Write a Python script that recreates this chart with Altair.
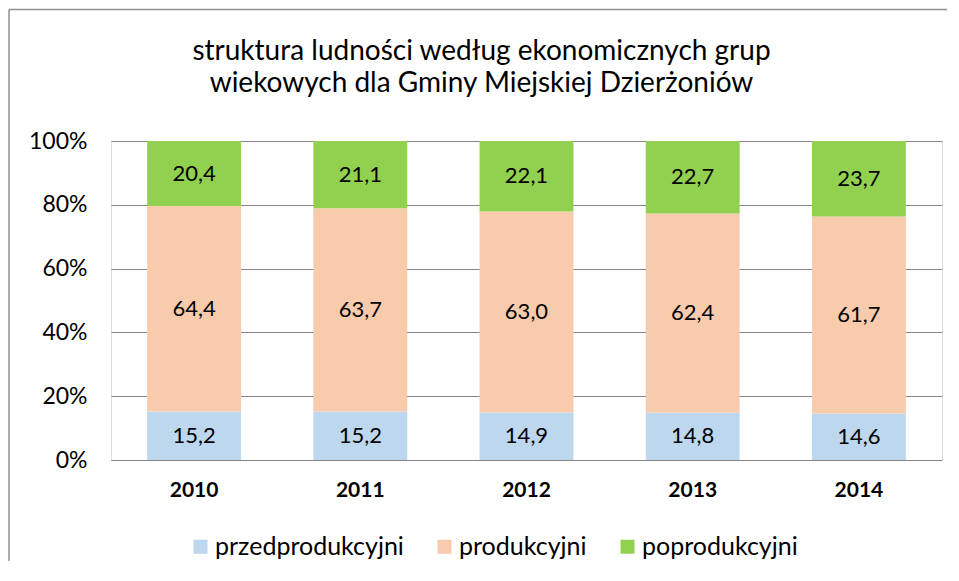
import altair as alt
import pandas as pd

years = ["2010", "2011", "2012", "2013", "2014"]
groups = ["przedprodukcyjni", "produkcyjni", "poprodukcyjni"]
przed = [15.2, 15.2, 14.9, 14.8, 14.6]
prod = [64.4, 63.7, 63.0, 62.4, 61.7]
popr = [20.4, 21.1, 22.1, 22.7, 23.7]
colors = ["#BDD7EE", "#F8CBAD", "#92D050"]

rows = []
for gi, (g, vals) in enumerate(zip(groups, [przed, prod, popr])):
    for y, v in zip(years, vals):
        rows.append({"year": y, "group": g, "order": gi, "value": v,
                     "label": f"{v:.1f}".replace(".", ",")})
df = pd.DataFrame(rows)

FONT = "Lato"
BORDER = "#8e8e8e"

base = alt.Chart(df).transform_stack(
    stack="value", groupby=["year"], as_=["y0", "y1"],
    sort=[alt.SortField("order", order="ascending")], offset="normalize"
).transform_calculate(mid="(datum.y0 + datum.y1) / 2")

xenc = alt.X("year:N", title=None,
             scale=alt.Scale(paddingInner=0.435, paddingOuter=0.2175),
             axis=alt.Axis(labelAngle=0, labelFontWeight="bold", labelFontSize=21,
                           labelColor="#000000", labelPadding=19, ticks=False,
                           domainColor="#868686", labelFont=FONT))

bars = base.mark_bar().encode(
    x=xenc,
    y=alt.Y("y0:Q", title=None, scale=alt.Scale(domain=[0, 1]),
            axis=alt.Axis(format=".0%", values=[0, 0.2, 0.4, 0.6, 0.8, 1.0],
                          labelFontSize=23, labelColor="#000000", labelPadding=24,
                          ticks=False, domain=False, gridColor="#868686",
                          labelFont=FONT)),
    y2="y1:Q",
    color=alt.Color("group:N", scale=alt.Scale(domain=groups, range=colors),
                    sort=groups,
                    legend=alt.Legend(title=None, orient="none", direction="horizontal",
                                      legendX=77, legendY=393,
                                      symbolType="square", symbolSize=196,
                                      symbolStrokeWidth=0, labelFontSize=25,
                                      labelFont=FONT, labelColor="#000000",
                                      labelLimit=400,
                                      columnPadding=28, labelOffset=2)),
    order=alt.Order("order:Q"),
)

texts = base.mark_text(fontSize=22, font=FONT, color="#000000").encode(
    x=alt.X("year:N"),
    y=alt.Y("mid:Q"),
    text="label:N",
)

frame_df = pd.DataFrame({"k": [0]})
top_border = alt.Chart(frame_df).mark_rule(color=BORDER, strokeWidth=1.5).encode(
    x=alt.value(-102), x2=alt.value(836), y=alt.value(-131.5))
left_border = alt.Chart(frame_df).mark_rule(color=BORDER, strokeWidth=1.5).encode(
    x=alt.value(-102), y=alt.value(-131.5), y2=alt.value(420))

chart = alt.layer(bars, texts, top_border, left_border).properties(
    width=831, height=319,
    title=alt.TitleParams(
        ["struktura ludności według ekonomicznych grup",
         "wiekowych dla Gminy Miejskiej Dzierżoniów"],
        fontSize=28, font=FONT, fontWeight="normal", color="#000000",
        anchor="middle", lineHeight=32, offset=-89, dx=-45),
    padding={"left": 0, "top": 0, "right": 0, "bottom": 0},
).configure_view(stroke=None).configure(background="white")

chart.save("out.html", embed_options={"renderer": "svg", "actions": False})
